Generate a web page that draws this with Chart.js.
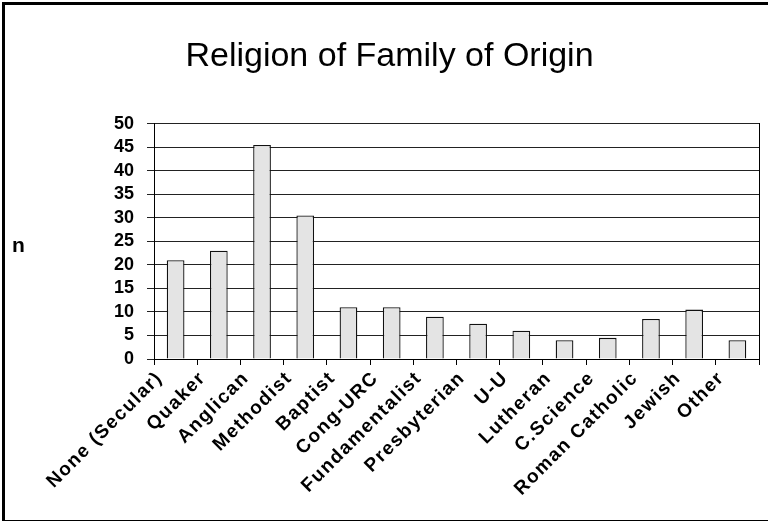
<!DOCTYPE html>
<html>
<head>
<meta charset="utf-8">
<script src="https://cdn.jsdelivr.net/npm/chart.js@4"></script>
<style>
  html, body { margin: 0; padding: 0; background: #fff; overflow: hidden; }
  #wrap { position: relative; width: 768px; height: 521px; }
  #c { position: absolute; left: 0; top: 0; }
  #frame { position: absolute; left: 2px; top: 2px; width: 800px; height: 515px;
           border-left: 3px solid #000; border-top: 3px solid #000; border-bottom: 1px solid #000;
           pointer-events: none; }
</style>
</head>
<body>
<div id="wrap">
  <canvas id="c" width="768" height="521"></canvas>
  <div id="frame"></div>
</div>
<script>
const categories = ["None (Secular)", "Quaker", "Anglican", "Methodist", "Baptist", "Cong-URC",
  "Fundamentalist", "Presbyterian", "U-U", "Lutheran", "C.Science", "Roman Catholic", "Jewish", "Other"];
const counts = [21, 23, 45.5, 30.5, 11, 11, 9, 7.5, 6, 4, 4.5, 8.5, 10.5, 4];
const yTicks = [0, 5, 10, 15, 20, 25, 30, 35, 40, 45, 50];
const titleText = "Religion of Family of Origin";
const yLabel = "n";

const FONT = "'Liberation Sans', Arial, Helvetica, sans-serif";

const nLabel = {
  id: 'nLabel',
  afterDraw(chart) {
    const ctx = chart.ctx;
    ctx.save();
    ctx.font = "bold 21px " + FONT;
    ctx.fillStyle = "#000";
    ctx.textAlign = "left";
    ctx.textBaseline = "alphabetic";
    ctx.fillText(yLabel, 12, 252);
    ctx.restore();
  }
};

new Chart(document.getElementById('c'), {
  type: 'bar',
  data: {
    labels: categories,
    datasets: [{
      data: counts,
      backgroundColor: '#e4e4e4',
      borderColor: '#111',
      borderWidth: 1.3,
      categoryPercentage: 0.41,
      barPercentage: 1.0
    }]
  },
  plugins: [nLabel],
  options: {
    responsive: false,
    animation: false,
    devicePixelRatio: 1,
    layout: { padding: { left: 20, right: 9, top: 0, bottom: 0 } },
    plugins: {
      legend: { display: false },
      tooltip: { enabled: false },
      title: {
        display: true,
        text: titleText,
        color: '#000',
        font: { family: FONT, size: 34, weight: 'normal' },
        padding: { top: 36, bottom: 47 }
      }
    },
    scales: {
      x: {
        offset: true,
        grid: { display: true, drawOnChartArea: false, offset: true, drawTicks: true, tickLength: 6, color: '#000', lineWidth: 1 },
        border: { display: true, color: '#000', width: 1 },
        ticks: {
          color: '#000',
          font: { family: FONT, size: 19, weight: 'bold' },
          minRotation: 45, maxRotation: 45,
          autoSkip: false,
          labelOffset: -16,
          padding: 2
        },
        afterFit(scale) {
          scale.height = 162;
          if (!scale._spaced) {
            const orig = scale.drawLabels.bind(scale);
            scale.drawLabels = function (area) {
              const ctx = this.ctx;
              ctx.save();
              ctx.letterSpacing = '1.5px';
              orig(area);
              ctx.restore();
            };
            scale._spaced = true;
          }
        }
      },
      y: {
        min: 0, max: 50,
        afterBuildTicks(scale) { scale.ticks = yTicks.map(v => ({ value: v })); },
        grid: { color: '#222', lineWidth: 1, drawTicks: true, tickLength: 7 },
        border: { display: true, color: '#000', width: 1 },
        ticks: {
          color: '#000',
          autoSkip: false,
          stepSize: 5,
          font: { family: FONT, size: 18, weight: 'bold' },
          padding: 13
        },
        afterFit(scale) { scale.width = 134; }
      },
      y2: {
        position: 'right',
        min: 0, max: 50,
        grid: { display: false, drawOnChartArea: false, drawTicks: false },
        border: { display: true, color: '#000', width: 1 },
        ticks: { display: false },
        afterFit(scale) { scale.width = 0; }
      }
    }
  }
});
</script>
</body>
</html>
